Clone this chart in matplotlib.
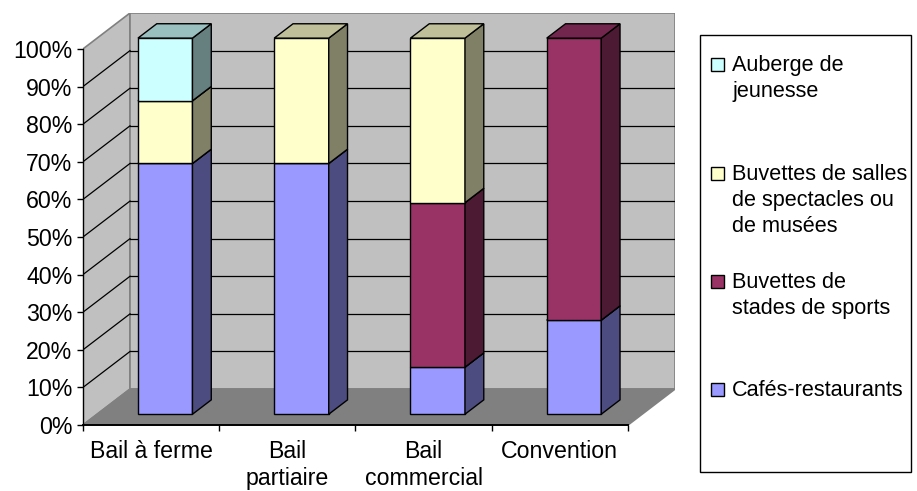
import matplotlib
matplotlib.use("Agg")
import matplotlib.pyplot as plt
from matplotlib.patches import Polygon, Rectangle
from matplotlib.ticker import FixedLocator, FuncFormatter

plt.rcParams['font.family'] = ['Liberation Sans', 'DejaVu Sans']

# ---- data -------------------------------------------------------------
categories = ["Bail à ferme", "Bail\npartiaire", "Bail\ncommercial", "Convention"]
cafes_restaurants = [66.67, 66.67, 12.5, 25.0]
buvettes_stades = [0.0, 0.0, 43.75, 75.0]
buvettes_salles = [16.67, 33.33, 43.75, 0.0]
auberge_jeunesse = [16.67, 0.0, 0.0, 0.0]

series_names = ["Cafés-restaurants", "Buvettes de\nstades de sports",
                "Buvettes de salles\nde spectacles ou\nde musées",
                "Auberge de\njeunesse"]
series_values = [cafes_restaurants, buvettes_stades, buvettes_salles, auberge_jeunesse]
front_colors = ["#9999FF", "#993366", "#FFFFCC", "#CCFFFF"]
side_colors = ["#4C4C80", "#4D1A33", "#808066", "#668080"]
top_colors = ["#7373BF", "#73264D", "#BFBF99", "#99BFBF"]

# ---- figure / axes ----------------------------------------------------
W, H = 917, 491
fig = plt.figure(figsize=(W / 100, H / 100), dpi=100)

DX = 0.345   # depth shift in category units
DY = 9.55    # depth shift in percent units
n = len(categories)
ax = fig.add_axes([83 / W, 66 / H, (675 - 83) / W, (478 - 66) / H])
ax.set_xlim(0, n + DX)
ax.set_ylim(0, 100 + DY)
ax.set_facecolor("none")

def proj(x, y, z):
    return (x + z * DX, y + z * DY)

wall = "#C0C0C0"
edge_gray = "#808080"
# left wall
ax.add_patch(Polygon([proj(0, 0, 0), proj(0, 0, 1), proj(0, 100, 1), proj(0, 100, 0)],
                     closed=True, facecolor=wall, edgecolor=edge_gray, lw=1.2, zorder=1))
# back wall
ax.add_patch(Polygon([proj(0, 0, 1), proj(n, 0, 1), proj(n, 100, 1), proj(0, 100, 1)],
                     closed=True, facecolor=wall, edgecolor=edge_gray, lw=1.2, zorder=1))
# gridlines
for v in range(10, 100, 10):
    p0, p1 = proj(0, v, 0), proj(0, v, 1)
    ax.plot([p0[0], p1[0]], [p0[1], p1[1]], color="black", lw=0.9, zorder=2)
    q0, q1 = proj(0, v, 1), proj(n, v, 1)
    ax.plot([q0[0], q1[0]], [q0[1], q1[1]], color="black", lw=0.9, zorder=2)
# floor
ax.add_patch(Polygon([proj(0, 0, 0), proj(n, 0, 0), proj(n, 0, 1), proj(0, 0, 1)],
                     closed=True, facecolor="#808080", edgecolor=edge_gray, lw=1.2, zorder=3))

# ---- stacked 3D bars ---------------------------------------------------
bw = 0.40
z0, z1 = 0.30, 0.70
for i in range(n):
    x0 = i + 0.5 - bw / 2
    x1 = i + 0.5 + bw / 2
    base = 0.0
    for s, vals in enumerate(series_values):
        v = vals[i]
        if v <= 0:
            continue
        b, t = base, base + v
        front = [proj(x0, b, z0), proj(x1, b, z0), proj(x1, t, z0), proj(x0, t, z0)]
        side = [proj(x1, b, z0), proj(x1, b, z1), proj(x1, t, z1), proj(x1, t, z0)]
        top = [proj(x0, t, z0), proj(x1, t, z0), proj(x1, t, z1), proj(x0, t, z1)]
        for poly, col in ((front, front_colors[s]), (side, side_colors[s]), (top, top_colors[s])):
            ax.add_patch(Polygon(poly, closed=True, facecolor=col, edgecolor="black",
                                 lw=1.0, zorder=4 + i * 0.01, joinstyle="miter"))
        base = t

# ---- axes decoration ---------------------------------------------------
for sp in ("top", "right"):
    ax.spines[sp].set_visible(False)
ax.spines["left"].set_bounds(0, 100)
ax.spines["bottom"].set_bounds(0, n)
ax.spines["left"].set_color("black")
ax.spines["bottom"].set_color("black")
ax.spines["left"].set_linewidth(1.0)
ax.spines["bottom"].set_linewidth(1.4)
ax.spines["left"].set_zorder(5)
ax.spines["bottom"].set_zorder(5)

LABEL_SIZE = 16.7
LEGEND_SIZE = 15.6

ax.yaxis.set_major_locator(FixedLocator(range(0, 101, 10)))
ax.yaxis.set_major_formatter(FuncFormatter(lambda v, p: f"{int(v)}%"))
ax.tick_params(axis="y", direction="out", length=4.3, width=1, pad=3.2, labelsize=LABEL_SIZE)

ax.xaxis.set_major_locator(FixedLocator(range(0, n + 1)))
ax.xaxis.set_major_formatter(FuncFormatter(lambda v, p: ""))
ax.xaxis.set_minor_locator(FixedLocator([i + 0.5 for i in range(n)]))
ax.set_xticklabels(categories, minor=True)
ax.tick_params(axis="x", which="major", direction="out", length=4.5, width=1)
ax.tick_params(axis="x", which="minor", length=0, pad=10.5, labelsize=LABEL_SIZE)
for lab in ax.get_xticklabels(minor=True):
    lab.set_multialignment("center")
    lab.set_linespacing(1.25)

# ---- legend ------------------------------------------------------------
leg_ax = fig.add_axes([0, 0, 1, 1], facecolor="none")
leg_ax.set_xlim(0, W)
leg_ax.set_ylim(H, 0)
leg_ax.axis("off")
leg_ax.add_patch(Rectangle((700, 35), 211, 437, facecolor="white", edgecolor="black", lw=1.0))
entry_tops = [57, 166, 274, 382]
order = [3, 2, 1, 0]
for k, s in enumerate(order):
    yt = entry_tops[k]
    leg_ax.add_patch(Rectangle((711, yt + 1), 13, 13, facecolor=front_colors[s],
                               edgecolor="black", lw=1.0))
    leg_ax.text(732, yt - 2, series_names[s], fontsize=LEGEND_SIZE, va="top", ha="left",
                linespacing=1.32)

fig.savefig("out.png", dpi=100)
